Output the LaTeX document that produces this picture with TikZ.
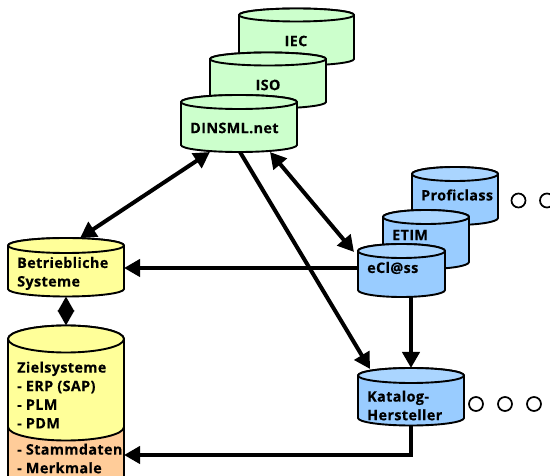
\documentclass[tikz,border=0pt]{standalone}
\usepackage{fontspec}
\setmainfont{Open Sans}[BoldFont={Open Sans Bold},BoldFeatures={FakeBold=0.25,LetterSpace=2.5}]
\usetikzlibrary{arrows.meta,calc}
\definecolor{grn}{HTML}{CCFFCC}
\definecolor{blu}{HTML}{99CCFF}
\definecolor{blutop}{HTML}{AAD5FF}
\definecolor{yel}{HTML}{FFFF99}
\definecolor{org}{HTML}{FFCC99}
\tikzset{
  x=1pt,y=-1pt,
  cylline/.style={draw=black,line width=1.9pt,line join=round},
  lbl/.style={font=\fontsize{14.4}{18.6}\selectfont\bfseries,align=left,anchor=west,inner sep=0pt},
  lblc/.style={lbl,anchor=center},
  conn/.style={line width=4pt,-{Triangle[length=16pt,width=17pt]}},
  connb/.style={line width=4pt,{Triangle[length=16pt,width=17pt]}-{Triangle[length=16pt,width=17pt]}},
  dots/.style={circle,draw=black,line width=1.7pt,fill=white,minimum size=14pt,inner sep=0pt},
  anchorbox/.style={inner sep=0pt,outer sep=0pt,draw=none}
}
% name, x1, x2, top centre y, side end y, ry, body colour, top colour
\newcommand{\cylbox}[8]{%
  \pgfmathsetmacro{\rx}{(#3-#2)/2}%
  \pgfmathsetmacro{\cx}{(#3+#2)/2}%
  \path[cylline,fill=#7] (#2,#4) -- (#2,#5) arc[start angle=180,end angle=360,x radius=\rx pt,y radius=#6 pt] -- (#3,#4) arc[start angle=0,end angle=180,x radius=\rx pt,y radius=#6 pt] -- cycle;
  \path[cylline,fill=#8] (\cx,#4) ellipse[x radius=\rx pt,y radius=#6 pt];
  \pgfmathsetmacro{\w}{#3-#2}%
  \pgfmathsetmacro{\h}{#5+#6-#4+#6}%
  \node[anchorbox,minimum width=\w pt,minimum height=\h pt,anchor=north west] (#1) at (#2,#4-#6) {};
}
\begin{document}
\begin{tikzpicture}
\useasboundingbox (0,0) rectangle (550,476);
% green stack
\cylbox{iec}{239}{354}{15}{59}{6.5}{grn}{grn}
\cylbox{iso}{210}{326}{59}{102}{6.5}{grn}{grn}
\cylbox{dinsml}{181}{297}{102}{145}{7}{grn}{grn}
\node[lblc] (tiec) at (296,41) {IEC};
\node[lblc] (tiso) at (268,85) {ISO};
\node[lbl] (tdin) at (190,128) {DINSML.net};
% blue stack
\cylbox{prof}{412}{498}{174}{218}{7}{blu}{blutop}
\cylbox{etim}{383}{469}{217}{262}{7}{blu}{blutop}
\cylbox{ecl}{358}{445}{251}{290}{7}{blu}{blutop}
\node[lbl] (tprof) at (421,195) {Proficlass};
\node[lbl] (tetim) at (392,235) {ETIM};
\node[lbl] (tecl) at (367,268) {eCl@ss};
\cylbox{kat}{358}{464}{375.5}{418}{7.5}{blu}{blutop}
\node[lbl] (tkat) at (367,405.5) {Katalog-\\Hersteller};
% yellow
\cylbox{betr}{8}{124}{245.5}{289}{7.5}{yel}{yel}
\node[lbl] (tbetr) at (17,273.5) {Betriebliche\\Systeme};
% Zielsysteme with orange lower part
\fill[org] (8,427) -- (8,477) -- (124,477) -- (124,427) -- cycle;
\draw[cylline] (8,477) -- (8,427) (124,427) -- (124,477);
\cylbox{ziel}{8}{124}{339}{427}{13.5}{yel}{yel}
\node[lbl] (tziel) at (17,395) {Zielsysteme\\- ERP (SAP)\\- PLM\\- PDM};
\node[lbl] (tstamm) at (17,458.5) {- Stammdaten\\- Merkmale};
% connectors
\coordinate (aEcl) at ([yshift=29pt]ecl.south west);
\draw[connb] ([xshift=29pt]dinsml.south west) -- ([xshift=72pt]betr.north west);
\draw[connb] ([xshift=89pt]dinsml.south west) -- ([xshift=-4pt,yshift=-8pt]ecl.north west);
\draw[conn] ([xshift=59pt]dinsml.south west) -- ([xshift=12pt,yshift=-1pt]kat.north west);
\draw[conn] (aEcl) -- (aEcl -| betr.east);
\coordinate (vx) at (411,0);
\draw[conn] (ecl.south -| vx) -- (kat.north -| vx);
\coordinate (ctrl) at (411,455);
\draw[conn] (kat.south -| ctrl) -- (ctrl) -- (ziel.east |- ctrl);
\draw[line width=3pt,{Triangle[length=15pt,width=16pt]}-{Triangle[length=15pt,width=16pt]}] (betr.south) -- (ziel.north);
% dots
\node[dots] (d1) at (518.5,200.5) {};
\node[dots] (d2) at (547,200.5) {};
\node[dots] (d3) at (476,404) {};
\node[dots] (d4) at (505,404) {};
\node[dots] (d5) at (534,404) {};
\end{tikzpicture}
\end{document}
